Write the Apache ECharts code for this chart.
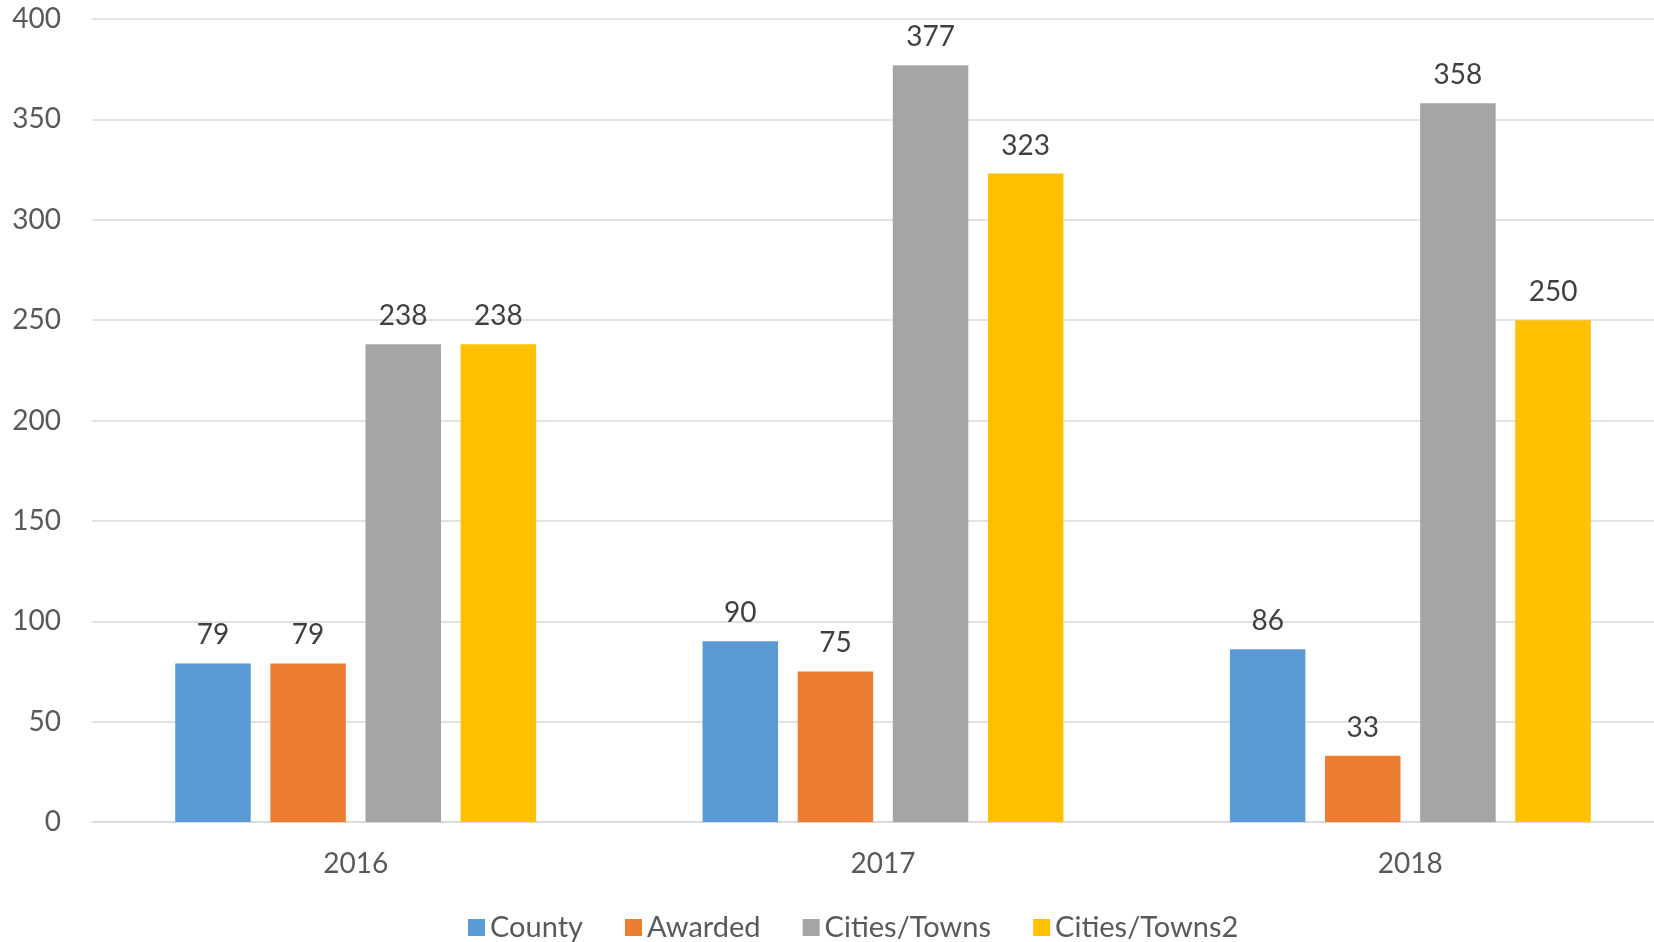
<!DOCTYPE html>
<html>
<head>
<meta charset="utf-8">
<script src="https://cdn.jsdelivr.net/npm/echarts@6/dist/echarts.min.js"></script>
<style>
html,body{margin:0;padding:0;background:#fff;overflow:hidden;width:1654px;height:942px;}
#chart{width:1674px;height:942px;}
</style>
</head>
<body>
<div id="chart"></div>
<script>
const categories = ['2016', '2017', '2018'];
const county = [79, 90, 86];
const awarded = [79, 75, 33];
const citiesTowns = [238, 377, 358];
const citiesTowns2 = [238, 323, 250];
const seriesNames = ['County', 'Awarded', 'Cities/Towns', 'Cities/Towns2'];
const seriesColors = ['#5B9BD5', '#ED7D31', '#A5A5A5', '#FFC000'];
const yTicks = { min: 0, max: 400, interval: 50 };

const FONT = 'Lato';
const seriesData = [county, awarded, citiesTowns, citiesTowns2];

const chart = echarts.init(document.getElementById('chart'), null, { renderer: 'canvas' });
chart.setOption({
  animation: false,
  backgroundColor: '#ffffff',
  textStyle: { fontFamily: FONT },
  grid: { left: 92, right: 0, top: 19, bottom: 120, containLabel: false },
  legend: {
    data: seriesNames,
    left: 468,
    top: 913,
    padding: 0,
    itemWidth: 17,
    itemHeight: 17,
    itemGap: 42,
    icon: 'rect',
    textStyle: { fontFamily: FONT, fontSize: 29, color: '#595959' }
  },
  xAxis: {
    type: 'category',
    data: categories,
    axisLine: { show: true, lineStyle: { color: '#D9D9D9', width: 1.5 } },
    axisTick: { show: false },
    axisLabel: { fontFamily: FONT, fontSize: 28, color: '#595959', margin: 28 }
  },
  yAxis: {
    type: 'value',
    min: yTicks.min,
    max: yTicks.max,
    interval: yTicks.interval,
    axisLine: { show: false },
    axisTick: { show: false },
    splitLine: { lineStyle: { color: '#D9D9D9', width: 1.5 } },
    axisLabel: { fontFamily: FONT, fontSize: 28, color: '#595959', margin: 31, align: 'right' }
  },
  series: seriesNames.map((name, i) => ({
    name: name,
    type: 'bar',
    data: seriesData[i],
    barWidth: 75.5,
    barGap: '26%',
    itemStyle: { color: seriesColors[i] },
    label: {
      show: true,
      position: 'top',
      distance: 14,
      fontFamily: FONT,
      fontSize: 28,
      color: '#404040'
    }
  }))
});
</script>
</body>
</html>
